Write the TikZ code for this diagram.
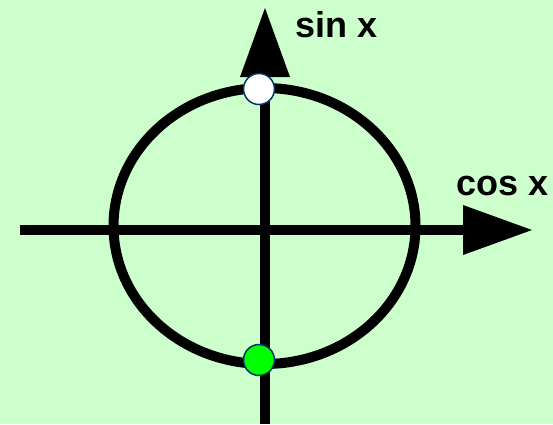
\documentclass[tikz,border=0pt]{standalone}
\usepackage{fontspec}
\setmainfont{Liberation Sans}
\definecolor{bgcol}{RGB}{204,255,204}
\definecolor{dotblue}{RGB}{0,51,102}
\definecolor{dotgreen}{RGB}{0,255,0}
\begin{document}
\begin{tikzpicture}[x=1pt,y=-1pt,
  axis/.style={line width=10pt},
  head/.style={fill=black},
  dot/.style={circle, draw=dotblue, line width=1.5pt, minimum size=31pt, inner sep=0pt},
  lbl/.style={anchor=base west, inner sep=0pt, font=\bfseries\fontsize{36}{36}\selectfont}]
\fill[bgcol] (0,0) rectangle (553,424);
\useasboundingbox (0,0) rectangle (553,424);
% unit circle
\draw[axis] (264.5,226) ellipse [x radius=151, y radius=138];
% horizontal axis
\coordinate (hstart) at (20,230);
\coordinate (hbase) at (466,230);
\coordinate (htip) at (532,230);
\draw[axis] (hstart) -- (hbase);
\fill[head] (463,205) -- (htip) -- (463,255) -- cycle;
% vertical axis
\coordinate (vstart) at (265,424);
\coordinate (vbase) at (265,74);
\coordinate (vtip) at (265,8);
\draw[axis] (vstart) -- (vbase);
\fill[head] (240,77) -- (vtip) -- (290,77) -- cycle;
% points
\node[dot, fill=white] (top) at (259,89) {};
\node[dot, fill=dotgreen] (bottom) at (259,360) {};
% labels
\node[lbl] (sinlbl) at (295,37) {sin x};
\node[lbl] (coslbl) at (456,195) {cos x};
\end{tikzpicture}
\end{document}
